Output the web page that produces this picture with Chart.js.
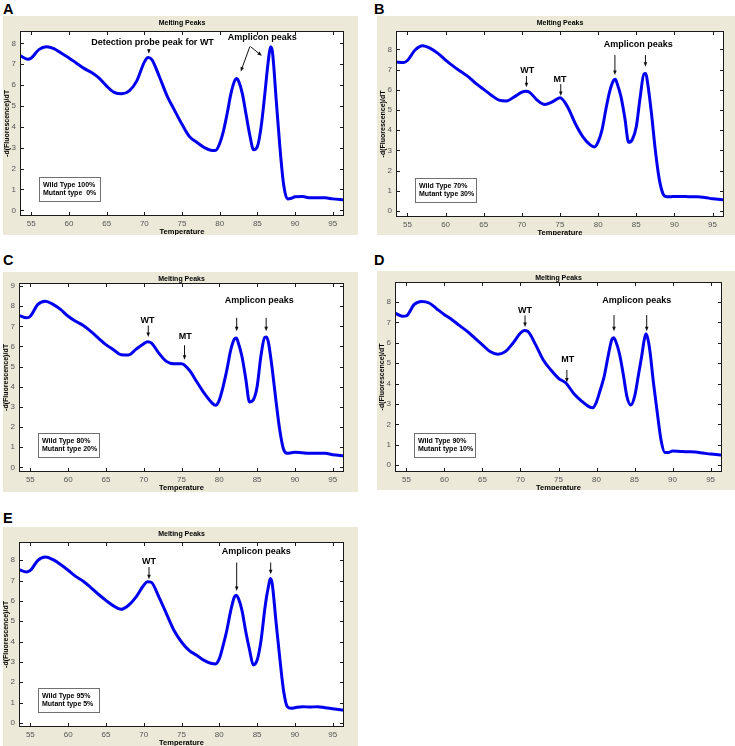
<!DOCTYPE html>
<html>
<head>
<meta charset="utf-8">
<title>Melting Peaks</title>
<script src="https://cdn.jsdelivr.net/npm/chart.js@4.4.1/dist/chart.umd.min.js"></script>
<style>
  body { margin: 0; width: 735px; height: 746px; position: relative; overflow: hidden; background: #fff; font-family: "Liberation Sans", Arial, sans-serif; }
  .tag { position: absolute; font-weight: bold; font-size: 14.5px; line-height: 14px; color: #000; }
  .frame { position: absolute; background: #ece9d8; }
  .frame canvas { display: block; }
</style>
</head>
<body>

<script>
// temperature grid shared by all five runs (denser around the amplicon peaks)
const temps = [53.5,54.5,55,56,57,58,59,60,61,62,63,64,65,66,67,68,69,70,70.5,71,
  72,73,74,75,76,77,78,79,79.5,80,80.5,81,81.5,82,82.25,82.5,83,83.5,84,84.5,85,85.5,86,
  86.25,86.5,86.75,87,87.5,88,88.5,89,89.5,90,91,92,93,94,95,96.5]

const xTicks = [55,60,65,70,75,80,85,90,95]
const yTicks8 = [0,1,2,3,4,5,6,7,8]
const yTicks9 = [0,1,2,3,4,5,6,7,8,9]

// -d(Fluorescence)/dT for each mix
const peakA = [7.41,7.24,7.3,7.7,7.84,7.75,7.52,7.3,7.05,6.8,6.6,6.33,5.95,5.65,5.58,5.72,6.2,7.1,7.32,7.22,
  6.4,5.5,4.8,4.12,3.53,3.25,3.0,2.87,2.88,3.2,3.8,4.65,5.6,6.22,6.32,6.2,5.6,4.6,3.6,2.9,3.05,4.0,5.6,
  6.5,7.3,7.84,7.6,5.3,3.0,1.2,0.55,0.58,0.65,0.66,0.6,0.6,0.6,0.55,0.5]
const peakB = [7.37,7.35,7.45,7.97,8.18,8.05,7.8,7.47,7.17,6.9,6.64,6.3,6.02,5.73,5.49,5.45,5.65,5.88,5.93,5.88,
  5.49,5.27,5.4,5.6,5.15,4.33,3.67,3.26,3.17,3.42,4.0,5.0,5.9,6.45,6.52,6.3,5.65,4.6,3.4,3.55,4.17,5.6,6.78,
  6.8,6.3,5.6,4.8,3.0,1.6,0.85,0.7,0.7,0.72,0.72,0.7,0.7,0.67,0.6,0.55]
const peakC = [7.54,7.42,7.5,8.09,8.25,8.09,7.84,7.5,7.25,7.04,6.75,6.42,6.09,5.84,5.59,5.58,5.87,6.14,6.24,6.18,
  5.67,5.26,5.14,5.14,4.84,4.26,3.68,3.21,3.08,3.34,4.0,4.84,5.8,6.37,6.42,6.2,5.5,4.4,3.25,3.35,4.0,5.5,6.45,
  6.47,6.2,5.6,4.9,3.3,1.85,0.9,0.7,0.72,0.75,0.72,0.7,0.7,0.7,0.63,0.58]
const peakD = [7.46,7.3,7.32,7.87,8.03,7.95,7.66,7.38,7.13,6.84,6.56,6.23,5.9,5.57,5.44,5.57,5.98,6.48,6.6,6.55,
  5.9,5.16,4.67,4.26,4.02,3.52,3.16,2.87,2.82,3.11,3.7,4.34,5.3,6.15,6.25,6.1,5.49,4.5,3.36,2.95,3.36,4.4,5.49,
  6.1,6.45,6.2,5.66,4.0,2.54,1.2,0.62,0.63,0.7,0.68,0.66,0.65,0.6,0.55,0.5]
const peakE = [7.54,7.43,7.5,8.0,8.16,8.03,7.79,7.51,7.21,6.97,6.66,6.33,6.03,5.76,5.59,5.79,6.2,6.77,6.95,6.92,
  6.2,5.38,4.56,3.98,3.57,3.33,3.08,2.92,2.9,3.16,3.8,4.56,5.5,6.2,6.28,6.15,5.54,4.5,3.6,2.85,3.08,4.0,5.54,
  6.2,6.7,7.1,6.85,5.0,3.2,1.6,0.8,0.72,0.75,0.8,0.78,0.8,0.75,0.7,0.62]

const mixA = ["Wild Type 100%", "Mutant type  0%"]
const mixB = ["Wild Type 70%", "Mutant type 30%"]
const mixC = ["Wild Type 80%", "Mutant type 20%"]
const mixD = ["Wild Type 90%", "Mutant type 10%"]
const mixE = ["Wild Type 95%", "Mutant type 5%"]

// labels [text, temp, value] and arrows [t1, v1, t2, v2] (tail -> head)
const notesA = {
  labels: [["Detection probe peak for WT", 71.1, 8.04], ["Amplicon peaks", 85.66, 8.29]],
  arrows: [[70.6, 7.72, 70.6, 7.5], [84.0, 7.84, 82.8, 6.65], [84.1, 7.84, 85.6, 7.4]]
}
const notesB = {
  labels: [["WT", 70.7, 6.94], ["MT", 75.0, 6.53], ["Amplicon peaks", 85.27, 8.26]],
  arrows: [[70.6, 6.68, 70.6, 6.12], [75.1, 6.28, 75.1, 5.69], [82.2, 7.72, 82.2, 6.73], [86.2, 7.72, 86.2, 7.14]]
}
const notesC = {
  labels: [["WT", 70.5, 7.3], ["MT", 75.5, 6.47], ["Amplicon peaks", 85.3, 8.3]],
  arrows: [[70.6, 7.04, 70.6, 6.47], [75.4, 6.06, 75.4, 5.34], [82.3, 7.42, 82.3, 6.75], [86.2, 7.42, 86.2, 6.75]]
}
const notesD = {
  labels: [["WT", 70.6, 7.59], ["MT", 76.2, 5.16], ["Amplicon peaks", 85.3, 8.08]],
  arrows: [[70.6, 7.34, 70.6, 6.77], [76.1, 4.67, 76.1, 4.05], [82.3, 7.36, 82.3, 6.57], [86.6, 7.36, 86.6, 6.57]]
}
const notesE = {
  labels: [["WT", 70.7, 7.92], ["Amplicon peaks", 84.9, 8.41]],
  arrows: [[70.7, 7.67, 70.7, 7.07], [82.3, 7.89, 82.3, 6.49], [86.8, 7.89, 86.8, 7.31]]
}

// frame = [left, top, width, height] on the page, plot = [left, top, right, bottom] inside the frame
const panels = [
  { tag: "A", tagPos: [3, 2],   frame: [3, 16, 355, 219],   plot: [17, 15, 341, 200], vals: peakA, yMin: -0.27, yMax: 8.59, yTicks: yTicks8, mix: mixA, notes: notesA },
  { tag: "B", tagPos: [374, 2], frame: [377, 16, 358, 219], plot: [19, 15, 347, 201], vals: peakB, yMin: -0.3,  yMax: 8.91, yTicks: yTicks8, mix: mixB, notes: notesB },
  { tag: "C", tagPos: [3, 253], frame: [3, 272, 355, 220],  plot: [16, 11, 341, 200], vals: peakC, yMin: -0.23, yMax: 9.15, yTicks: yTicks9, mix: mixC, notes: notesC },
  { tag: "D", tagPos: [374, 253], frame: [377, 271, 358, 219], plot: [18, 11, 345, 201], vals: peakD, yMin: -0.33, yMax: 8.98, yTicks: yTicks8, mix: mixD, notes: notesD },
  { tag: "E", tagPos: [3, 511], frame: [3, 527, 355, 219],  plot: [16, 15, 341, 200], vals: peakE, yMin: -0.2,  yMax: 8.9,  yTicks: yTicks8, mix: mixE, notes: notesE },
]

const FONT = '"Liberation Sans", Arial, sans-serif'

const meltPlugin = {
  id: "melt",
  beforeDraw(chart) {
    const { ctx, chartArea: a } = chart
    ctx.save()
    ctx.fillStyle = "#fff"
    ctx.fillRect(a.left, a.top, a.right - a.left, a.bottom - a.top)
    ctx.restore()
  },
  afterDraw(chart, args, opts) {
    const { ctx, chartArea: a } = chart
    const xs = chart.scales.x, ys = chart.scales.y
    const px = v => xs.getPixelForValue(v)
    const py = v => ys.getPixelForValue(v)
    const cx = (a.left + a.right) / 2
    ctx.save()

    // axes box and inward ticks on all sides
    ctx.strokeStyle = "#1a1a1a"
    ctx.lineWidth = 1
    ctx.strokeRect(Math.round(a.left) + 0.5, Math.round(a.top) + 0.5,
      Math.round(a.right - a.left) - 1, Math.round(a.bottom - a.top) - 1)
    ctx.beginPath()
    xTicks.forEach(t => {
      const x = Math.round(px(t)) + 0.5
      ctx.moveTo(x, a.bottom); ctx.lineTo(x, a.bottom - 4)
      ctx.moveTo(x, a.top); ctx.lineTo(x, a.top + 4)
    })
    opts.yTicks.forEach(t => {
      const y = Math.round(py(t)) + 0.5
      ctx.moveTo(a.left, y); ctx.lineTo(a.left + 4, y)
      ctx.moveTo(a.right, y); ctx.lineTo(a.right - 4, y)
    })
    ctx.stroke()

    // titles
    ctx.fillStyle = "#000"
    ctx.textAlign = "center"
    ctx.textBaseline = "middle"
    ctx.font = "bold 7px " + FONT
    ctx.fillText("Melting Peaks", cx, 7.5)
    ctx.font = "bold 7.5px " + FONT
    ctx.fillText("Temperature", cx, a.bottom + 15.5)
    ctx.save()
    ctx.translate(a.left - 13, (a.top + a.bottom) / 2)
    ctx.rotate(-Math.PI / 2)
    ctx.font = "bold 7px " + FONT
    ctx.fillText("-d(Fluorescence)/dT", 0, 0)
    ctx.restore()

    // annotations
    ctx.font = "bold 9px " + FONT
    opts.notes.labels.forEach(([txt, t, v]) => ctx.fillText(txt, px(t), py(v)))
    ctx.strokeStyle = "#111"
    ctx.fillStyle = "#111"
    opts.notes.arrows.forEach(([t1, v1, t2, v2]) => {
      const x1 = px(t1), y1 = py(v1), x2 = px(t2), y2 = py(v2)
      const ang = Math.atan2(y2 - y1, x2 - x1)
      ctx.beginPath()
      ctx.moveTo(x1, y1); ctx.lineTo(x2 - 3 * Math.cos(ang), y2 - 3 * Math.sin(ang))
      ctx.stroke()
      ctx.beginPath()
      ctx.moveTo(x2, y2)
      ctx.lineTo(x2 - 4.5 * Math.cos(ang) + 1.8 * Math.sin(ang), y2 - 4.5 * Math.sin(ang) - 1.8 * Math.cos(ang))
      ctx.lineTo(x2 - 4.5 * Math.cos(ang) - 1.8 * Math.sin(ang), y2 - 4.5 * Math.sin(ang) + 1.8 * Math.cos(ang))
      ctx.closePath()
      ctx.fill()
    })

    // mix legend box
    const bx = Math.round(a.left + 19) + 0.5, bh = 24, bw = 61
    const by = Math.round(a.bottom - 15 - bh) + 0.5
    ctx.fillStyle = "#fff"
    ctx.fillRect(bx, by, bw, bh)
    ctx.strokeStyle = "#707070"
    ctx.strokeRect(bx, by, bw, bh)
    ctx.fillStyle = "#000"
    ctx.textAlign = "left"
    ctx.font = "bold 7px " + FONT
    ctx.fillText(opts.mix[0], bx + 3.5, by + 7.5)
    ctx.fillText(opts.mix[1], bx + 3.5, by + 16)

    ctx.restore()
  }
}

function makePanel(p) {
  const tag = document.createElement("div")
  tag.className = "tag"
  tag.textContent = p.tag
  tag.style.left = p.tagPos[0] + "px"
  tag.style.top = p.tagPos[1] + "px"
  document.body.appendChild(tag)

  const [fl, ft, fw, fh] = p.frame
  const [pl, pt, pr, pb] = p.plot
  const box = document.createElement("div")
  box.className = "frame"
  box.style.cssText = `left:${fl}px;top:${ft}px;width:${fw}px;height:${fh}px`
  const cv = document.createElement("canvas")
  cv.width = fw
  cv.height = fh
  box.appendChild(cv)
  document.body.appendChild(box)

  const dados = {
    datasets: [{
      data: temps.map((t, i) => ({ x: t, y: p.vals[i] })),
      borderColor: "#0000ee",
      borderWidth: 3,
      pointRadius: 0,
      cubicInterpolationMode: "monotone",
      borderJoinStyle: "round",
      borderCapStyle: "round",
    }]
  }

  return new Chart(cv, {
    type: "line",
    data: dados,
    plugins: [meltPlugin],
    options: {
      responsive: false,
      animation: false,
      devicePixelRatio: 1,
      layout: { padding: { left: 0, top: pt, right: fw - pr, bottom: 0 } },
      plugins: {
        legend: { display: false },
        tooltip: { enabled: false },
        melt: { notes: p.notes, mix: p.mix, yTicks: p.yTicks },
      },
      scales: {
        x: {
          type: "linear",
          min: 53.5,
          max: 96.5,
          afterBuildTicks: s => { s.ticks = xTicks.map(v => ({ value: v })) },
          afterFit: s => { s.height = fh - pb },
          grid: { display: false, drawTicks: false },
          border: { display: false },
          ticks: { font: { size: 8, family: FONT }, color: "#555", padding: 3, maxRotation: 0 },
        },
        y: {
          min: p.yMin,
          max: p.yMax,
          afterBuildTicks: s => { s.ticks = p.yTicks.map(v => ({ value: v })) },
          afterFit: s => { s.width = pl },
          grid: { display: false, drawTicks: false },
          border: { display: false },
          ticks: { font: { size: 8, family: FONT }, color: "#555", padding: 4 },
        }
      }
    }
  })
}

panels.forEach(makePanel)
</script>
</body>
</html>
